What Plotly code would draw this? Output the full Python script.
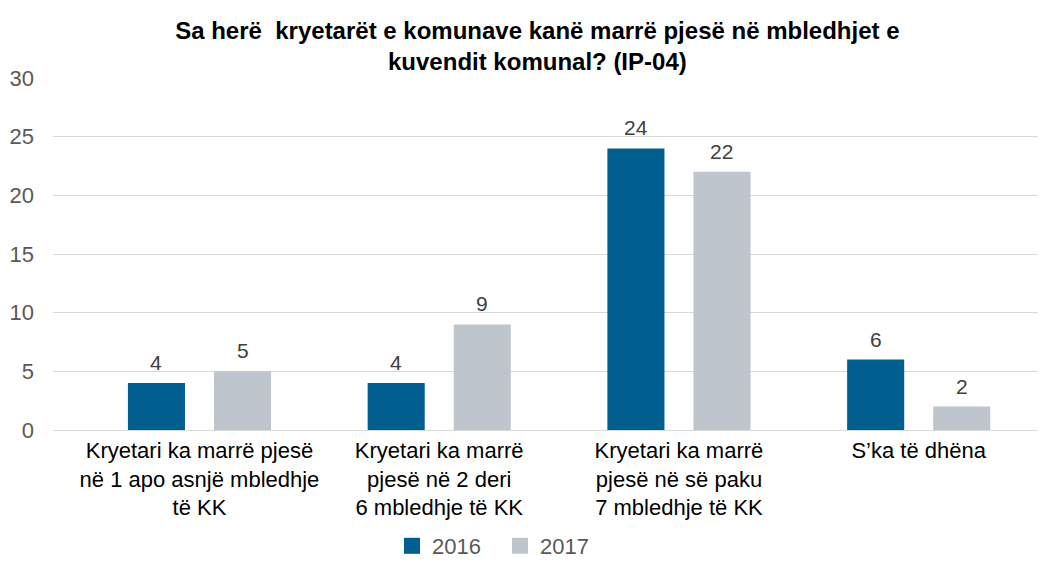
import plotly.graph_objects as go

categories = [
    "Kryetari ka marrë pjesë<br>në 1 apo asnjë mbledhje<br>të KK",
    "Kryetari ka marrë<br>pjesë në 2 deri<br>6 mbledhje të KK",
    "Kryetari ka marrë<br>pjesë në së paku<br>7 mbledhje të KK",
    "S’ka të dhëna",
]
values_2016 = [4, 4, 24, 6]
values_2017 = [5, 9, 22, 2]
series_names = ["2016", "2017"]
colors = ["#005F8E", "#BFC5CC"]
title_text = "Sa herë  kryetarët e komunave kanë marrë pjesë në mbledhjet e<br>kuvendit komunal? (IP-04)"

x_idx = list(range(len(categories)))
BARGAP = 0.282
slot = (1 - BARGAP) / 2

W, H = 1038, 559  # page body has an 8px margin

fig = go.Figure()
for j, (name, vals, col) in enumerate(zip(series_names, [values_2016, values_2017], colors)):
    fig.add_trace(go.Bar(
        x=x_idx, y=vals, name=name, marker=dict(color=col, line=dict(width=0)),
        showlegend=False,
    ))
    fig.add_trace(go.Scatter(
        x=[None], y=[None], mode="markers", name=name,
        marker=dict(symbol="square", size=22, color=col),
    ))
    for i, v in zip(x_idx, vals):
        fig.add_annotation(
            x=i + (j - 0.5) * slot, y=v, xref="x", yref="y",
            text=str(v), showarrow=False, yanchor="bottom", yshift=7,
            font=dict(family="Liberation Sans, Arial", size=21, color="#404040"),
        )

fig.update_layout(
    width=W, height=H,
    margin=dict(l=45, r=0, t=70, b=137, autoexpand=False),
    paper_bgcolor="white", plot_bgcolor="white",
    barmode="group", bargap=BARGAP, bargroupgap=0.337,
    title=dict(text=title_text, x=0.51, xref="container", xanchor="center",
               y=1 - 31/H, yref="container", yanchor="top",
               font=dict(family="Liberation Sans, Arial", size=24, color="#000000", weight="bold")),
    font=dict(family="Liberation Sans, Arial"),
    legend=dict(orientation="h", xref="container", yref="container",
                x=0.474, xanchor="center", y=-5/H, yanchor="bottom",
                font=dict(size=22, color="#595959"), itemwidth=30,
                entrywidth=63, entrywidthmode="pixels", tracegroupgap=0),
    showlegend=True,
)
fig.update_xaxes(
    range=[-0.611, 3.531], tickmode="array", tickvals=x_idx, ticktext=categories,
    tickfont=dict(size=22, color="#000000"), showgrid=False, zeroline=False,
    showline=False, ticks="", ticklabelstandoff=5,
)
fig.update_yaxes(
    range=[0, 30], dtick=5, tickfont=dict(size=22, color="#595959"),
    showgrid=True, gridcolor="#D9D9D9", gridwidth=1.3,
    zeroline=True, zerolinecolor="#D9D9D9", zerolinewidth=1.3,
    showline=False, ticks="", ticklabelstandoff=18,
)

fig.write_html("out.html")
